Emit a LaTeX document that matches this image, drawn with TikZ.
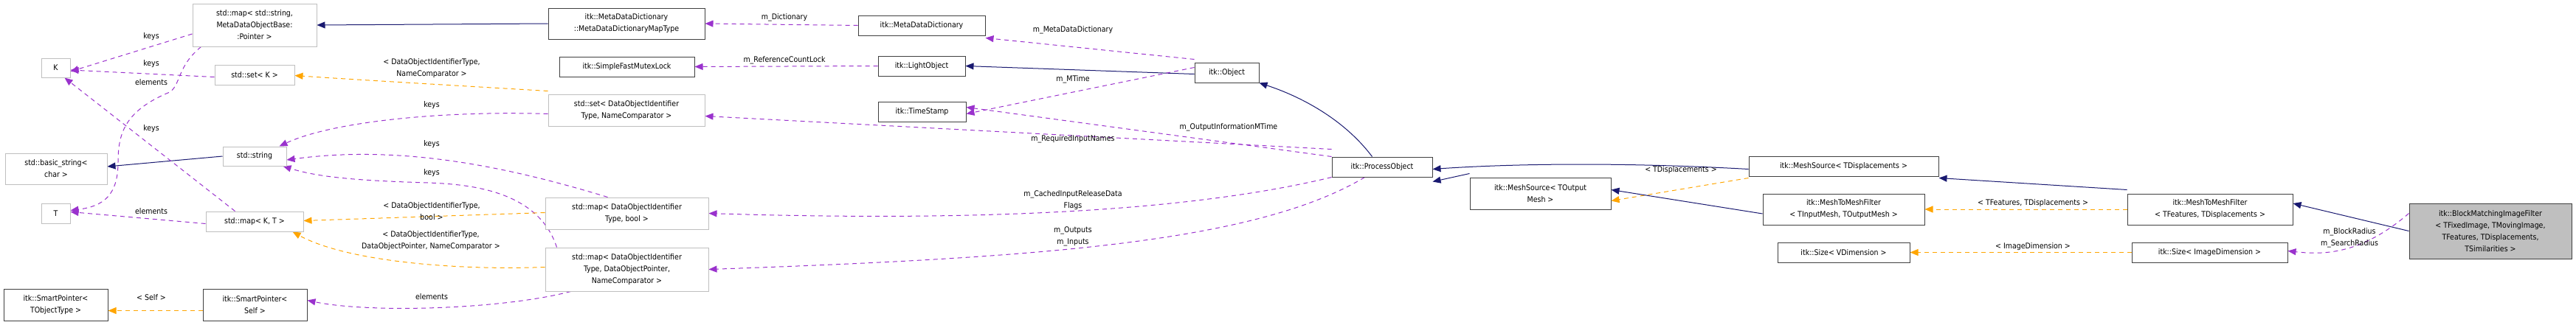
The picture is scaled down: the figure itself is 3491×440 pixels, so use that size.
\documentclass[tikz,border=0pt]{standalone}
\usepackage{fontspec}
\setmainfont{DejaVu Sans Condensed}
\usetikzlibrary{arrows.meta}
\definecolor{inh}{HTML}{191970}
\definecolor{usg}{HTML}{9A32CD}
\definecolor{tpl}{HTML}{FFA500}
\pgfdeclarelayer{bg}
\pgfsetlayers{bg,main}
\begin{document}
\begin{tikzpicture}[x=1pt,y=-1pt,font=\fontsize{10.5}{16}\selectfont,
  box/.style={draw=black!75,line width=1pt,fill=white,inner sep=0pt,align=center},
  gbox/.style={draw=black!25,line width=1pt,fill=white,inner sep=0pt,align=center},
  tip/.style={-{Triangle[length=11pt,width=9pt]}},
  ih/.style={tip,draw=inh,line width=1pt},
  us/.style={tip,draw=usg,line width=1pt,dashed,dash pattern=on 6pt off 5pt},
  tp/.style={tip,draw=tpl,line width=1pt,dashed,dash pattern=on 6pt off 5pt},
  lb/.style={align=center,inner sep=0pt}]
\useasboundingbox (0,0) rectangle (3491,440);
\newcommand\bx[6]{\node[#1,minimum width=#4-#2,minimum height=#5-#3] (#6) at ({(#2+#4)/2},{(#3+#5)/2})}
\bx{gbox}{261}{5}{429}{63}{mapstr} {std::map< std::string,\\MetaDataObjectBase:\\:Pointer >};
\bx{gbox}{56}{79}{95}{105}{K} {K};
\bx{gbox}{291}{88}{399}{115}{setK} {std::set< K >};
\bx{gbox}{7}{208}{145}{250}{bstr} {std::basic\_string<\\char >};
\bx{gbox}{302}{199}{388}{225}{str} {std::string};
\bx{gbox}{56}{276}{95}{303}{T} {T};
\bx{gbox}{279}{287}{411}{314}{mapKT} {std::map< K, T >};
\bx{box}{5}{392}{146}{435}{spto} {itk::SmartPointer<\\TObjectType >};
\bx{box}{275}{392}{416}{435}{sps} {itk::SmartPointer<\\Self >};
\bx{box}{743}{11}{955}{53}{mdmt} {itk::MetaDataDictionary\\::MetaDataDictionaryMapType};
\bx{box}{758}{77}{941}{104}{sfml} {itk::SimpleFastMutexLock};
\bx{gbox}{743}{128}{955}{171}{setdoi} {std::set< DataObjectIdentifier\\Type, NameComparator >};
\bx{gbox}{739}{268}{960}{311}{mapb} {std::map< DataObjectIdentifier\\Type, bool >};
\bx{gbox}{739}{336}{960}{395}{mapdop} {std::map< DataObjectIdentifier\\Type, DataObjectPointer,\\NameComparator >};
\bx{box}{1163}{21}{1335}{48}{mdd} {itk::MetaDataDictionary};
\bx{box}{1190}{76}{1308}{103}{lo} {itk::LightObject};
\bx{box}{1190}{138}{1309}{165}{ts} {itk::TimeStamp};
\bx{box}{1619}{85}{1706}{112}{obj} {itk::Object};
\bx{box}{1805}{213}{1941}{240}{po} {itk::ProcessObject};
\bx{box}{2370}{212}{2627}{239}{msd} {itk::MeshSource< TDisplacements >};
\bx{box}{1992}{241}{2183}{284}{mso} {itk::MeshSource< TOutput\\Mesh >};
\bx{box}{2389}{263}{2608}{305}{mtio} {itk::MeshToMeshFilter\\< TInputMesh, TOutputMesh >};
\bx{box}{2409}{329}{2588}{356}{szv} {itk::Size< VDimension >};
\bx{box}{2883}{263}{3107}{305}{mtfd} {itk::MeshToMeshFilter\\< TFeatures, TDisplacements >};
\bx{box}{2889}{329}{3100}{356}{szi} {itk::Size< ImageDimension >};
\node[box,fill=black!25,minimum width=220,minimum height=75] (bm) at (3375,313.5) {itk::BlockMatchingImageFilter\\< TFixedImage, TMovingImage,\\TFeatures, TDisplacements,\\TSimilarities >};
\begin{pgfonlayer}{bg}
\draw[ih] (mdmt.west) -- (mapstr.east);
\draw[us] (mdd.west) -- (mdmt.east);
\draw[us] ([yshift=4]obj.north west) -- ([yshift=-3]mdd.south east);
\draw[ih] ([yshift=-2]obj.west) -- (lo.east);
\draw[us] (lo.west) -- (sfml.east);
\draw[us] ([yshift=7]obj.west) -- ([yshift=-3]ts.east);
\draw[us] (po.north west) -- ([yshift=6]ts.east);
\draw[ih] ([xshift=55]po.north west) .. controls (1820,160) and (1760,130) .. (obj.south east);
\draw[us] ([yshift=10]po.north west) -- ([yshift=-8]setdoi.east);
\draw[us] (po.south west) .. controls (1600,290) and (1300,300) .. (mapb.east);
\draw[us] ([xshift=45]po.south west) .. controls (1700,330) and (1400,350) .. (mapdop.east);
\draw[ih] ([yshift=-4]msd.west) .. controls (2200,220) and (2050,222) .. ([yshift=-3]po.east);
\draw[ih] ([yshift=5]mso.north west) -- ([yshift=-6]po.south east);
\draw[tp] ([yshift=-2]msd.south west) -- ([yshift=-10]mso.east);
\draw[ih] ([yshift=-6]mtio.west) -- ([yshift=5]mso.east);
\draw[tp] (mtfd.west) -- (mtio.east);
\draw[ih] ([yshift=5]mtfd.north west) -- ([yshift=-2]msd.south east);
\draw[ih] (bm.west) -- ([yshift=8]mtfd.east);
\draw[us] ([yshift=24]bm.west) .. controls (3200,345) and (3150,346) .. ([yshift=2]szi.east);
\draw[tp] (szi.west) -- (szv.east);
\draw[tp] ([yshift=4]setdoi.north west) .. controls (600,115) and (480,108) .. ([yshift=-1]setK.east);
\draw[us] ([yshift=-5]setdoi.west) .. controls (600,150) and (450,165) .. ([xshift=-10]str.north east);
\draw[us] ([xshift=85]mapb.north west) .. controls (700,230) and (550,195) .. ([yshift=-5]str.east);
\draw[us] ([xshift=16]mapdop.north west) .. controls (730,260) and (640,250) .. (580,248) .. controls (480,245) and (430,240) .. ([xshift=-5]str.south east);
\draw[tp] ([yshift=1]mapb.west) -- ([yshift=1]mapKT.east);
\draw[tp] ([yshift=3]mapdop.west) .. controls (620,367) and (470,355) .. ([xshift=-15]mapKT.south east);
\draw[us] ([xshift=35]mapdop.south west) .. controls (680,420) and (500,425) .. ([yshift=6]sps.east);
\draw[tp] ([yshift=-8]sps.west) -- ([yshift=-8]spto.east);
\draw[ih] (str.west) -- ([yshift=3]bstr.east);
\draw[us] ([xshift=40]mapKT.north west) -- ([xshift=-8]K.south east);
\draw[us] ([yshift=-3]mapKT.west) -- ([yshift=2]T.east);
\draw[us] ([yshift=-3]setK.west) -- ([yshift=-3]K.east);
\draw[us] ([yshift=-12]mapstr.west) -- ([yshift=-5]K.east);
\draw[us] ([xshift=12]mapstr.south west) .. controls (240,90) and (245,115) .. (230,125) .. controls (170,150) and (160,180) .. (160,220) .. controls (160,265) and (140,280) .. ([yshift=4]T.east);
\end{pgfonlayer}
\node[lb] (l1) at (205,50) {keys};
\node[lb] (l2) at (205,87) {keys};
\node[lb] (l3) at (205,112) {elements};
\node[lb] (l4) at (205,175) {keys};
\node[lb] (l5) at (205,287) {elements};
\node[lb] (l6) at (205,404) {< Self >};
\node[lb] (l7) at (585,93) {< DataObjectIdentifierType,\\NameComparator >};
\node[lb] (l8) at (585,143) {keys};
\node[lb] (l9) at (585,196) {keys};
\node[lb] (l10) at (585,235) {keys};
\node[lb] (l11) at (585,287) {< DataObjectIdentifierType,\\bool >};
\node[lb] (l12) at (584,327) {< DataObjectIdentifierType,\\DataObjectPointer, NameComparator >};
\node[lb] (l13) at (585,403) {elements};
\node[lb] (l14) at (1063,24) {m\_Dictionary};
\node[lb] (l15) at (1063,82) {m\_ReferenceCountLock};
\node[lb] (l16) at (1454,41) {m\_MetaDataDictionary};
\node[lb] (l17) at (1454,108) {m\_MTime};
\node[lb] (l18) at (1665,173) {m\_OutputInformationMTime};
\node[lb] (l19) at (1454,189) {m\_RequiredInputNames};
\node[lb] (l20) at (1454,272) {m\_CachedInputReleaseData\\Flags};
\node[lb] (l21) at (1454,321) {m\_Outputs\\m\_Inputs};
\node[lb] (l22) at (2278,231) {< TDisplacements >};
\node[lb] (l23) at (2755,276) {< TFeatures, TDisplacements >};
\node[lb] (l24) at (2755,335) {< ImageDimension >};
\node[lb] (l25) at (3184,323) {m\_BlockRadius\\m\_SearchRadius};
\end{tikzpicture}
\end{document}
